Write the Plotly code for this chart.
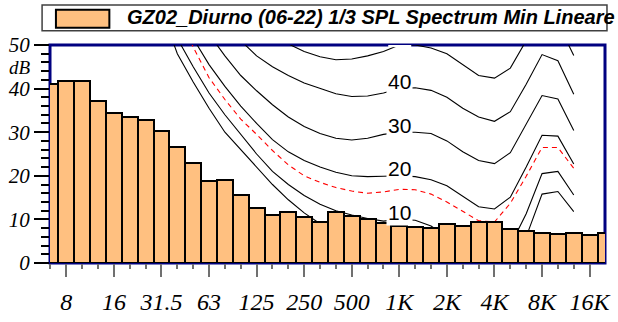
import plotly.graph_objects as go

# ---------------- data ----------------
bands = ["6.3", "8", "10", "12.5", "16", "20", "25", "31.5", "40", "50",
         "63", "80", "100", "125", "160", "200", "250", "315", "400", "500",
         "630", "800", "1K", "1.25K", "1.6K", "2K", "2.5K", "3.15K", "4K", "5K",
         "6.3K", "8K", "10K", "12.5K", "16K", "20K"]
spl = [41.0, 41.7, 41.7, 37.1, 34.5, 33.5, 32.7, 30.2, 26.6, 23.0,
       18.8, 19.0, 15.6, 12.7, 11.1, 11.8, 10.6, 9.5, 11.8, 10.7,
       10.0, 9.2, 8.4, 8.2, 8.1, 9.0, 8.4, 9.4, 9.3, 7.7,
       7.3, 6.8, 6.7, 6.8, 6.5, 6.9]

tick_bands = ["8", "16", "31.5", "63", "125", "250", "500", "1K", "2K", "4K", "8K", "16K"]

contour_bands = ["31.5", "40", "50", "63", "80", "100", "125", "160", "200", "250",
                 "315", "400", "500", "630", "800", "1K", "1.25K", "1.6K", "2K", "2.5K",
                 "3.15K", "4K", "5K", "6.3K", "8K", "10K", "12.5K"]
threshold = [58, 48, 41.5, 35.5, 30, 26, 22, 18, 14.5, 11.5,
             9, 6.8, 5, 3.8, 3, 3, 3.5, 2.5, 0, -2,
             -3.5, -3, 0, 6, 15.8, 16.4, 11.8]
phon10 = [60, 51.5, 45, 39, 34, 29.5, 25, 21, 18, 15.5,
          13.5, 12, 11, 10.2, 9.6, 10, 9.8, 8.5, 6, 3.5,
          2, 2.5, 4, 11.3, 20.5, 21, 15.6]
red_curve = [68, 58, 49.5, 42.5, 37.5, 33, 29.5, 25.8, 22.5, 20,
             18.5, 17.3, 16.5, 16, 16.3, 16.9, 16.8, 15.8, 14, 11.8,
             9.7, 9.4, 13.7, 19.9, 26.5, 26.5, 21.7]
phon20 = [70, 60, 51.5, 45.5, 40.5, 36, 32, 28.3, 25.5, 23.5,
          22, 20.8, 20, 19.8, 19.9, 20, 19.8, 19.1, 17.7, 15.3,
          12.9, 12.4, 15.1, 22, 29.3, 29.1, 22.7]
phon30 = [80, 70, 62, 52.5, 47.5, 43, 39.5, 36.3, 33.5, 31.3,
          29.7, 28.6, 28.2, 28.6, 29.5, 30, 30, 29.7, 28, 25.5,
          23.5, 22.8, 25.3, 32, 38.4, 37.6, 30.4]
phon40 = [88, 78, 70, 63, 56, 51, 47.5, 45, 43, 41.3,
          40, 38.8, 38.2, 38.3, 39, 40, 40.2, 39.6, 38, 35.5,
          33.5, 32.5, 34.7, 41, 47.8, 46.4, 38.7]
phon50 = [96, 87, 79, 72, 65, 60, 55, 52, 50.2, 48.5,
          47.3, 46.6, 46.8, 47.5, 48.5, 50, 50, 49.3, 48, 45.5,
          43, 42.4, 44.7, 51, 57, 55, 47.6]
contour_labels = [10, 20, 30, 40]
legend_text = "GZ02_Diurno (06-22) 1/3 SPL Spectrum Min Lineare"

# ---------------- figure ----------------
W, H = 618, 322
ML, MR, MT, MB = 50, 7, 45, 48
PW, PH = W - ML - MR, H - MT - MB


def px(x):
    return (x - ML) / PW


def py(y):
    return (H - MB - y) / PH


xpos = list(range(len(bands)))
cx = [bands.index(b) for b in contour_bands]
XR = [-0.03, 34.97]
YR = [0, 50]

fig = go.Figure()

# contour lines on the base subplot (drawn beneath the bars)
for vals in [threshold, phon10, phon20, phon30, phon40, phon50]:
    fig.add_trace(go.Scatter(x=cx, y=vals, mode="lines",
                             line=dict(color="black", width=1.1),
                             hoverinfo="skip", showlegend=False))
fig.add_trace(go.Scatter(x=cx, y=red_curve, mode="lines",
                         line=dict(color="#FF0000", width=1.1, dash="5px,4px"),
                         hoverinfo="skip", showlegend=False))

# bars on an overlaying subplot so they cover the curves
fig.add_trace(go.Bar(x=xpos, y=spl, width=1, xaxis="x2", yaxis="y2",
                     marker=dict(color="#FFC080", line=dict(color="black", width=2)),
                     showlegend=False))

serif = "Liberation Serif"
sans = "Liberation Sans"

fig.update_layout(
    width=W, height=H,
    margin=dict(l=ML, r=MR, t=MT, b=MB, pad=0),
    paper_bgcolor="white", plot_bgcolor="white",
    bargap=0, showlegend=False,
    xaxis=dict(
        range=XR, showgrid=False, zeroline=False, showline=False,
        tickmode="array", tickvals=[bands.index(t) for t in tick_bands], ticktext=tick_bands,
        ticks="outside", ticklen=13, tickwidth=1.5, tickcolor="#707070",
        ticklabelstandoff=4,
        tickfont=dict(family=serif, size=24, color="black", style="italic"),
        minor=dict(tickmode="linear", tick0=0, dtick=1, ticks="outside",
                   ticklen=5, tickwidth=1.5, tickcolor="#707070"),
    ),
    yaxis=dict(
        range=YR, showgrid=False, zeroline=False, showline=False,
        tickmode="linear", tick0=0, dtick=10,
        ticks="outside", ticklen=15, tickwidth=1.5, tickcolor="black",
        tickfont=dict(family=serif, size=21, color="black", style="italic"),
        minor=dict(tickmode="linear", tick0=0, dtick=2, ticks="outside",
                   ticklen=8, tickwidth=1.5, tickcolor="black"),
    ),
    xaxis2=dict(range=XR, overlaying="x", visible=False, showgrid=False, zeroline=False),
    yaxis2=dict(range=YR, overlaying="y", visible=False, showgrid=False, zeroline=False),
)

shapes = [
    # plot frame (under the bars)
    dict(type="rect", xref="paper", yref="paper", x0=0, y0=0, x1=1, y1=1,
         line=dict(color="#000080", width=3), layer="below"),
    # legend box
    dict(type="rect", xref="paper", yref="paper", x0=px(42), x1=px(613), y0=py(30), y1=py(3),
         line=dict(color="#404040", width=1.5), fillcolor="white", layer="above"),
    dict(type="rect", xref="paper", yref="paper", x0=px(56), x1=px(110), y0=py(27), y1=py(8),
         line=dict(color="black", width=2), fillcolor="#FFC080", layer="above"),
    # white gap of the hidden 50 label on the frame
    dict(type="rect", xref="x", yref="y", x0=bands.index("1K") - 0.7, x1=bands.index("1K") + 0.75,
         y0=49.5, y1=50.5, line=dict(width=0), fillcolor="white", layer="above"),
]
fig.update_layout(shapes=shapes)

ann = [
    dict(xref="paper", yref="paper", x=px(374), y=py(16), xanchor="center", yanchor="middle",
         text=legend_text, showarrow=False,
         font=dict(family=sans, size=20, color="black", weight="bold", style="italic")),
    dict(xref="paper", yref="paper", x=px(20), y=py(68.5), xanchor="center", yanchor="middle",
         text="dB", showarrow=False,
         font=dict(family=serif, size=19, color="black", style="italic")),
]
for lv in contour_labels:
    ann.append(dict(x=bands.index("1K"), y=lv, xref="x", yref="y", text=str(lv),
                    showarrow=False, bgcolor="white", yshift=7, borderpad=1,
                    font=dict(family=sans, size=21, color="black")))
fig.update_layout(annotations=ann)

fig.write_html("out.html")
